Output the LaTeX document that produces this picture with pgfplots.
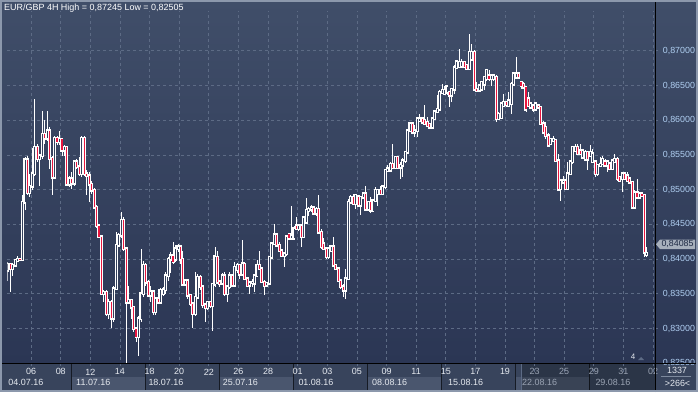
\documentclass[border=0pt]{standalone}
\usepackage{pgfplots}
\pgfplotsset{compat=1.18}
\usepackage{pgfplotstable}
\usepackage{fontspec}
\setmainfont{Liberation Sans}
\definecolor{bgtop}{HTML}{404E69}
\definecolor{bgbot}{HTML}{2B3654}
\definecolor{panel}{HTML}{38445C}
\definecolor{panelbox}{HTML}{4A566E}
\definecolor{gridc}{HTML}{5D6B85}
\definecolor{candred}{HTML}{E8163F}
\definecolor{hollow}{HTML}{34405C}
\definecolor{ylab}{HTML}{B0CFF2}
\definecolor{framec}{HTML}{8C98AC}
\definecolor{daylab}{HTML}{E4E8EE}
\definecolor{dimlab}{HTML}{9AA3B3}
\definecolor{tagfill}{HTML}{A7B0BC}
\definecolor{tagtext}{HTML}{1E2A44}
\newcommand\dl[1]{\textcolor{dimlab}{#1}}

\pgfplotstableread{
n o h l c
2 0.8384 0.8396 0.8369 0.8393
3 0.8393 0.8395 0.8353 0.8386
4 0.8386 0.8394 0.8376 0.8391
5 0.8391 0.8400 0.8388 0.8398
6 0.8398 0.8405 0.8396 0.8400
7 0.8400 0.8402 0.8397 0.8399
8 0.8399 0.8492 0.8397 0.8482
9 0.8482 0.8547 0.8470 0.8543
10 0.8543 0.8548 0.8492 0.8496
11 0.8496 0.8523 0.8490 0.8505
12 0.8505 0.8560 0.8500 0.8523
13 0.8523 0.8631 0.8520 0.8561
14 0.8561 0.8566 0.8540 0.8545
15 0.8545 0.8552 0.8506 0.8549
16 0.8549 0.8614 0.8545 0.8580
17 0.8580 0.8600 0.8566 0.8574
18 0.8574 0.8614 0.8570 0.8585
19 0.8585 0.8590 0.8530 0.8545
20 0.8545 0.8549 0.8492 0.8518
21 0.8518 0.8578 0.8515 0.8574
22 0.8574 0.8578 0.8565 0.8569
23 0.8569 0.8585 0.8565 0.8573
24 0.8573 0.8575 0.8549 0.8557
25 0.8557 0.8565 0.8549 0.8561
26 0.8561 0.8563 0.8506 0.8508
27 0.8508 0.8520 0.8504 0.8516
28 0.8516 0.8525 0.8501 0.8509
29 0.8509 0.8542 0.8506 0.8540
30 0.8540 0.8545 0.8530 0.8533
31 0.8533 0.8547 0.8520 0.8523
32 0.8523 0.8578 0.8518 0.8574
33 0.8574 0.8578 0.8520 0.8523
34 0.8523 0.8528 0.8492 0.8520
35 0.8520 0.8525 0.8482 0.8508
36 0.8508 0.8512 0.8494 0.8499
37 0.8499 0.8502 0.8472 0.8475
38 0.8475 0.8478 0.8445 0.8448
39 0.8448 0.8451 0.8430 0.8432
40 0.8432 0.8435 0.8348 0.8350
41 0.8350 0.8356 0.8338 0.8352
42 0.8352 0.8355 0.8318 0.8321
43 0.8321 0.8342 0.8314 0.8338
44 0.8338 0.8341 0.8300 0.8315
45 0.8315 0.8362 0.8310 0.8357
46 0.8357 0.8439 0.8355 0.8420
47 0.8420 0.8437 0.8418 0.8434
48 0.8434 0.8468 0.8430 0.8456
49 0.8456 0.8460 0.8412 0.8415
50 0.8415 0.8418 0.82505 0.8338
51 0.8338 0.8362 0.8335 0.8341
52 0.8341 0.8343 0.8314 0.8331
53 0.8331 0.8333 0.8295 0.8300
54 0.8300 0.8302 0.8281 0.8288
55 0.8288 0.8318 0.8261 0.8314
56 0.8314 0.8415 0.8310 0.8350
57 0.8350 0.8398 0.8345 0.8391
58 0.8391 0.8395 0.8362 0.8367
59 0.8367 0.8370 0.8345 0.8348
60 0.8348 0.8362 0.8338 0.8353
61 0.8353 0.8356 0.8319 0.8324
62 0.8324 0.8346 0.8320 0.8343
63 0.8343 0.8357 0.8335 0.8338
64 0.8338 0.8358 0.8335 0.8355
65 0.8350 0.8360 0.8347 0.8356
66 0.8356 0.8381 0.8350 0.8376
67 0.8376 0.8403 0.8369 0.8400
68 0.8400 0.8410 0.8380 0.8405
69 0.8405 0.8425 0.8393 0.8396
70 0.8400 0.8420 0.8396 0.8415
71 0.8415 0.8422 0.8410 0.8418
72 0.8418 0.8420 0.8393 0.8400
73 0.8400 0.8412 0.8362 0.8364
74 0.8364 0.8372 0.8362 0.8369
75 0.8369 0.8371 0.8343 0.8348
76 0.8348 0.8350 0.8333 0.8336
77 0.8336 0.8338 0.8300 0.8321
78 0.8321 0.8381 0.8318 0.8345
79 0.8345 0.8379 0.8343 0.8374
80 0.8374 0.8377 0.8355 0.8360
81 0.8360 0.8362 0.8330 0.8334
82 0.8334 0.8336 0.8310 0.8330
83 0.8330 0.8340 0.8327 0.8338
84 0.8338 0.8340 0.8330 0.8333
85 0.8333 0.8366 0.8297 0.8364
86 0.8364 0.8417 0.8360 0.8403
87 0.8403 0.8412 0.8364 0.8367
88 0.8367 0.8370 0.8360 0.8365
89 0.8365 0.8380 0.8362 0.8376
90 0.8376 0.8381 0.8347 0.8350
91 0.8350 0.8362 0.8338 0.8360
92 0.8360 0.8381 0.8357 0.8376
93 0.8376 0.8379 0.8360 0.8362
94 0.8362 0.8396 0.8360 0.8388
95 0.8385 0.8394 0.8380 0.8391
96 0.8391 0.8393 0.8372 0.8378
97 0.8378 0.8427 0.8376 0.8393
98 0.8393 0.8396 0.8370 0.8372
99 0.8372 0.8374 0.8360 0.8362
100 0.8362 0.8368 0.8350 0.8366
101 0.8366 0.8372 0.8360 0.8367
102 0.8365 0.8379 0.8352 0.8376
103 0.8376 0.8398 0.8374 0.8391
104 0.8391 0.8412 0.8384 0.8386
105 0.8386 0.8388 0.8365 0.8367
106 0.8367 0.8370 0.8348 0.8362
107 0.8362 0.8367 0.8360 0.8365
108 0.8365 0.8405 0.8362 0.8403
109 0.8403 0.8424 0.8400 0.8422
110 0.8422 0.8451 0.8420 0.8435
111 0.8435 0.8437 0.8418 0.8420
112 0.8420 0.8424 0.8410 0.8412
113 0.8412 0.8415 0.8403 0.8405
114 0.8405 0.8410 0.8388 0.8408
115 0.8408 0.8434 0.8405 0.8432
116 0.8436 0.8438 0.8427 0.8430
117 0.8430 0.8477 0.8428 0.8434
118 0.8430 0.8447 0.8428 0.8444
119 0.8448 0.8460 0.8442 0.8444
120 0.8444 0.8451 0.8440 0.8448
121 0.8448 0.8450 0.8417 0.8432
122 0.8432 0.8462 0.8430 0.8460
123 0.8453 0.8488 0.8450 0.8470
124 0.8470 0.8475 0.8462 0.8472
125 0.8472 0.8478 0.8468 0.8474
126 0.8474 0.8476 0.8464 0.8466
127 0.8466 0.8475 0.8462 0.8472
128 0.8472 0.8492 0.8437 0.8439
129 0.8439 0.8444 0.8415 0.8418
130 0.8422 0.8430 0.8413 0.8415
131 0.8415 0.8417 0.8400 0.8403
132 0.8403 0.8417 0.8400 0.8415
133 0.8412 0.8420 0.8410 0.8418
134 0.8418 0.8432 0.8389 0.8391
135 0.8391 0.8393 0.8384 0.8386
136 0.8386 0.8388 0.8367 0.8369
137 0.8369 0.8372 0.8357 0.8360
138 0.8360 0.8364 0.8345 0.8355
139 0.8355 0.8386 0.8343 0.8372
140 0.8372 0.8486 0.8370 0.8482
141 0.8482 0.8492 0.8480 0.8489
142 0.8489 0.8494 0.8478 0.8480
143 0.8480 0.8494 0.8472 0.8492
144 0.8490 0.8492 0.8475 0.8478
145 0.8478 0.8491 0.8463 0.8489
146 0.8489 0.8497 0.8486 0.8494
147 0.8494 0.8506 0.8470 0.8472
148 0.8472 0.8484 0.8470 0.8482
149 0.8482 0.8489 0.8467 0.8470
150 0.8470 0.8487 0.8468 0.8484
151 0.8484 0.8504 0.8482 0.8499
152 0.8494 0.8501 0.8477 0.8499
153 0.8499 0.8506 0.8492 0.8494
154 0.8494 0.8506 0.8492 0.8504
155 0.8504 0.8530 0.8501 0.8528
156 0.8527 0.8535 0.8525 0.8530
157 0.8528 0.8540 0.8525 0.8537
158 0.8537 0.8566 0.8530 0.8532
159 0.8532 0.8549 0.8530 0.8547
160 0.8547 0.8549 0.8530 0.8532
161 0.8532 0.8540 0.8516 0.8535
162 0.8535 0.8545 0.8518 0.8542
163 0.8542 0.8556 0.8538 0.8554
164 0.8554 0.8588 0.8552 0.8585
165 0.8585 0.8597 0.8583 0.8595
166 0.8595 0.8597 0.8580 0.8583
167 0.8583 0.8593 0.8576 0.8585
168 0.8585 0.8605 0.8576 0.8602
169 0.8600 0.8609 0.8598 0.8602
170 0.8602 0.8604 0.8595 0.8597
171 0.8600 0.8622 0.8593 0.8595
172 0.8597 0.8604 0.8590 0.8592
173 0.8594 0.8596 0.8588 0.8590
174 0.8590 0.8605 0.8588 0.8602
175 0.8602 0.8614 0.8600 0.8612
176 0.8612 0.8636 0.8610 0.8616
177 0.8616 0.8643 0.8614 0.8640
178 0.8640 0.8652 0.8638 0.8643
179 0.8638 0.8650 0.8636 0.8643
180 0.8640 0.8650 0.8636 0.8648
181 0.8640 0.8642 0.8619 0.8636
182 0.8636 0.8647 0.8626 0.8645
183 0.8645 0.8679 0.8638 0.8676
184 0.8676 0.8686 0.8674 0.8684
185 0.8677 0.8703 0.8675 0.8684
186 0.8678 0.8689 0.8676 0.8684
187 0.8684 0.8686 0.8675 0.8677
188 0.8679 0.8681 0.8672 0.8674
189 0.8674 0.87245 0.8672 0.8698
190 0.8688 0.8710 0.8686 0.8698
191 0.8698 0.8701 0.8643 0.8645
192 0.8645 0.8655 0.8640 0.8643
193 0.8643 0.8652 0.8640 0.8650
194 0.8645 0.8657 0.8643 0.8655
195 0.8652 0.8664 0.8643 0.8662
196 0.8660 0.8674 0.8657 0.8672
197 0.8664 0.8672 0.8657 0.8660
198 0.8660 0.8667 0.8650 0.8664
199 0.8660 0.8667 0.8657 0.8664
200 0.8662 0.8665 0.8597 0.8602
201 0.8602 0.8612 0.8600 0.8609
202 0.8604 0.8626 0.8602 0.8624
203 0.8621 0.8638 0.8619 0.8626
204 0.8626 0.8628 0.8619 0.8622
205 0.8621 0.8640 0.8619 0.8628
206 0.8624 0.8655 0.8609 0.8652
207 0.8652 0.8669 0.8650 0.8667
208 0.8662 0.8691 0.8660 0.8667
209 0.8667 0.8669 0.8660 0.8662
210 0.8655 0.8657 0.8645 0.8650
211 0.8652 0.8655 0.8645 0.8648
212 0.8648 0.8650 0.8612 0.8616
213 0.8631 0.8640 0.8619 0.8621
214 0.8619 0.8626 0.8617 0.8624
215 0.8621 0.8624 0.8612 0.8616
216 0.8616 0.8626 0.8614 0.8624
217 0.8621 0.8624 0.8617 0.8619
218 0.8619 0.8621 0.8593 0.8595
219 0.8595 0.8599 0.8580 0.8583
220 0.8590 0.8597 0.8573 0.8578
221 0.8578 0.8582 0.8561 0.8564
222 0.8566 0.8575 0.8564 0.8573
223 0.8571 0.8578 0.8569 0.8573
224 0.8571 0.8573 0.8540 0.8542
225 0.8542 0.8552 0.8499 0.8501
226 0.8501 0.8516 0.8484 0.8513
227 0.8511 0.8520 0.8509 0.8513
228 0.8513 0.8516 0.8499 0.8501
229 0.8501 0.8540 0.8499 0.8523
230 0.8523 0.8542 0.8521 0.8540
231 0.8540 0.8563 0.8537 0.8561
232 0.8556 0.8566 0.8554 0.8561
233 0.8561 0.8566 0.8550 0.8552
234 0.8556 0.8566 0.8550 0.8552
235 0.8547 0.8558 0.8545 0.8556
236 0.8544 0.8557 0.8542 0.8554
237 0.8554 0.8556 0.8528 0.8544
238 0.8549 0.8564 0.8547 0.8554
239 0.8540 0.8559 0.8538 0.8552
240 0.8540 0.8542 0.8518 0.8523
241 0.8523 0.8537 0.8520 0.8535
242 0.8535 0.8547 0.8533 0.8537
243 0.8537 0.8549 0.8535 0.8544
244 0.8540 0.8544 0.8533 0.8535
245 0.8535 0.8542 0.8525 0.8540
246 0.8537 0.8540 0.8528 0.8530
247 0.8530 0.8544 0.8528 0.8542
248 0.8540 0.8552 0.8538 0.8544
249 0.8544 0.8547 0.8513 0.8516
250 0.8518 0.8520 0.8511 0.8513
251 0.8516 0.8525 0.8497 0.8523
252 0.8523 0.8525 0.8514 0.8516
253 0.8520 0.8525 0.8511 0.8513
254 0.8516 0.8518 0.8509 0.8511
255 0.8511 0.8513 0.8472 0.8475
256 0.8475 0.8499 0.8472 0.8496
257 0.8496 0.8516 0.8487 0.8489
258 0.8489 0.8497 0.8487 0.8494
259 0.8494 0.8496 0.8489 0.8492
260 0.8492 0.8494 0.8403 0.8410
261 0.84065 0.8418 0.8403 0.84085
}\candles

\begin{document}
\begin{tikzpicture}[x=1bp,y=1bp]
\useasboundingbox (0,0) rectangle (698,392);
\fill[panel] (0,0) rectangle (698,392);
\shade[top color=bgtop, bottom color=bgbot] (0,29) rectangle (698,392);
% week boxes in the time panel
\foreach \a/\b in {71.2/145.2, 219.3/293.3, 367.3/441.4, 515.4/589.5}
  \fill[panelbox] (\a,2) rectangle (\b,15);
\foreach \a in {71.2,145.2,219.3,293.3,367.3,441.4,515.4,589.5}
  \draw[black!60!panel, line width=0.8] (\a,2) -- (\a,29);
\fill[black, opacity=0.22] (521,2) rectangle (655,29);
\draw[gridc, line width=0.8] (521.5,2) -- (521.5,29);

\begin{axis}[at={(3,29)}, anchor=south west, scale only axis,
  width=652bp, height=361bp,
  xmin=1.89, xmax=266.07, ymin=0.82375, ymax=0.87576,
  axis line style={draw=none}, major tick length=0pt,
  xtick={11.5,23.5,...,263.5},
  xticklabels={06,08,12,14,18,20,22,26,28,01,03,05,09,11,15,17,19,\dl{23},\dl{25},\dl{29},\dl{31},\dl{02}},
  xticklabel style={font=\fontsize{9}{10}\selectfont, text=daylab, anchor=center, inner sep=0pt, yshift=0bp},
  ytick={0.825,0.83,0.835,0.84,0.845,0.85,0.855,0.86,0.865,0.87},
  yticklabels={{0,82500},{0,83000},{0,83500},{0,84000},{0,84500},{0,85000},{0,85500},{0,86000},{0,86500},{0,87000}},
  yticklabel pos=right,
  yticklabel style={font=\fontsize{8.9}{10}\selectfont, text=ylab, anchor=west, inner sep=0pt, xshift=3.3bp},
  xmajorgrids, ymajorgrids,
  major grid style={gridc, dash pattern=on 3bp off 3bp, line width=0.8bp},
  clip=true]
\addplot[draw=none, mark=none, error bars/.cd, y dir=both, y explicit, error mark=none,
  error bar style={draw=white, line width=0.9bp}]
  table[x=n, y expr={(\thisrow{h}+\thisrow{l})/2}, y error expr={(\thisrow{h}-\thisrow{l})/2}] {\candles};
\addplot[draw=none, mark=none, error bars/.cd, y dir=both, y explicit, error mark=none,
  error bar style={draw=white, line width=3bp, line cap=rect}]
  table[x=n, y expr={(\thisrow{o}+\thisrow{c})/2}, y error expr={max(abs(\thisrow{o}-\thisrow{c})/2,0.00001)}] {\candles};
\addplot[draw=none, mark=none, error bars/.cd, y dir=both, y explicit, error mark=none,
  error bar style={draw=candred, line width=1.1bp, line cap=butt}]
  table[x=n, y expr={(\thisrow{o}+\thisrow{c})/2}, y error expr={max((\thisrow{o}-\thisrow{c})/2,0)}] {\candles};
\addplot[draw=none, mark=none, error bars/.cd, y dir=both, y explicit, error mark=none,
  error bar style={draw=hollow, line width=0.9bp, line cap=butt}]
  table[x=n, y expr={(\thisrow{o}+\thisrow{c})/2}, y error expr={max((\thisrow{c}-\thisrow{o})/2,0)}] {\candles};
\end{axis}

% frame lines
\draw[black, line width=1bp] (0,29) -- (698,29);
\draw[black, line width=1bp] (655,0) -- (655,390);
% week labels
\begin{scope}[font=\fontsize{9}{10}\selectfont]
\foreach \xx/\t in {8.3/04.07.16, 76/11.07.16, 148.3/18.07.16, 222.7/25.07.16, 298.3/01.08.16, 372/08.08.16, 448/15.08.16}
  \node[anchor=west, inner sep=0pt, text=daylab] at (\xx,9.3) {\t};
\foreach \xx/\t in {522/22.08.16, 595.3/29.08.16}
  \node[anchor=west, inner sep=0pt, text=dimlab] at (\xx,9.3) {\t};
\node[inner sep=0pt, text=daylab] at (677,21.5) {1337};
\node[inner sep=0pt, text=daylab] at (677.5,9) {>266<};
\end{scope}
\draw[gridc!80!white, line width=0.8] (661,16) -- (691,16);
% title
\node[anchor=west, inner sep=0pt, text=white, font=\fontsize{9}{10}\selectfont] at (4,384) {EUR/GBP 4H High = 0,87245 Low = 0,82505};
% small marker
\node[inner sep=0pt, text=daylab, font=\fontsize{8}{9}\selectfont] at (633,35) {4};
\fill[gridc] (638,32) -- (644,32) -- (641,35) -- cycle;
% current price tag
\fill[tagfill] (656,147.7) -- (660,152.5) -- (695,152.5) -- (695,142.9) -- (660,142.9) -- cycle;
\node[anchor=west, inner sep=0pt, text=tagtext, font=\fontsize{8.9}{10}\selectfont] at (661.3,147.7) {0,84085};
% outer frame
\draw[framec, line width=2bp] (1,1) rectangle (697,391);
\end{tikzpicture}
\end{document}
